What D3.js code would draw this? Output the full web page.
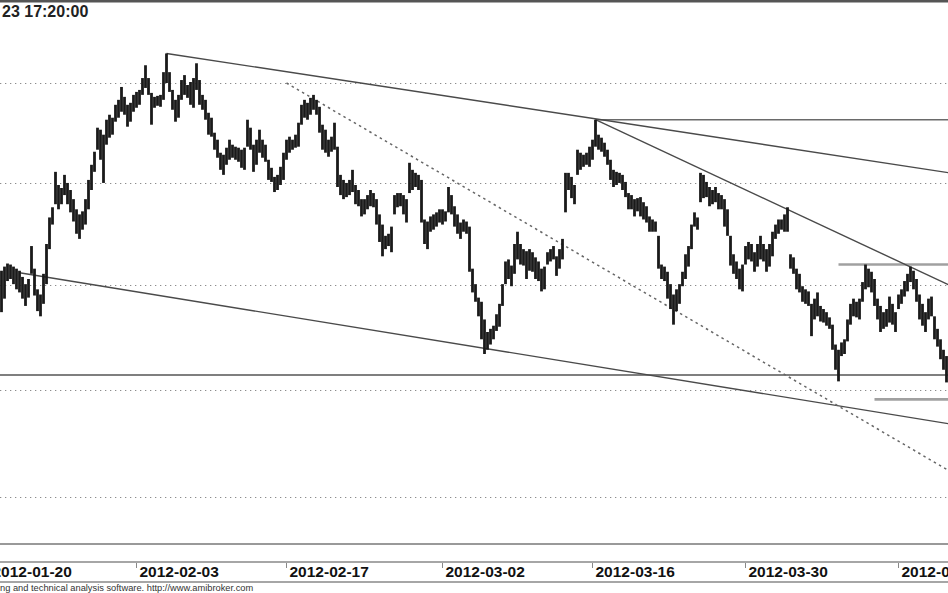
<!DOCTYPE html>
<html>
<head>
<meta charset="utf-8">
<script src="https://cdn.jsdelivr.net/npm/d3@7"></script>
<style>
  html, body { margin: 0; padding: 0; background: #fff; }
  svg { display: block; }
</style>
</head>
<body>
<svg id="chart" width="948" height="593"></svg>
<script>
// bar highs / lows, one bar per slot
var barHigh = [
  4314,4318,4321,4320,4318,4316,4314,4308,4301,4306,
  4338,4316,4296,4291,4311,4340,4366,4376,4411,4398,
  4395,4408,4400,4393,4384,4374,4369,4372,4384,4403,
  4418,4431,4455,4453,4448,4463,4468,4465,4478,4483,
  4496,4486,4478,4480,4488,4491,4493,4505,4518,4505,
  4490,4486,4487,4488,4511,4530,4511,4493,4483,4488,
  4503,4508,4498,4501,4505,4520,4503,4488,4483,4470,
  4465,4450,4443,4430,4428,4435,4443,4438,4436,4435,
  4433,4435,4463,4455,4438,4443,4453,4443,4438,4423,
  4415,4406,4408,4416,4430,4443,4446,4443,4448,4460,
  4478,4483,4480,4485,4488,4483,4476,4458,4453,4443,
  4446,4460,4436,4408,4403,4400,4403,4413,4398,4393,
  4384,4384,4388,4393,4390,4384,4369,4359,4348,4350,
  4357,4388,4390,4390,4388,4384,4420,4413,4410,4408,
  4403,4364,4362,4367,4369,4371,4374,4374,4372,4396,
  4388,4377,4369,4361,4364,4362,4357,4316,4301,4288,
  4284,4267,4255,4258,4261,4272,4282,4301,4323,4325,
  4319,4340,4352,4340,4335,4333,4335,4332,4327,4323,
  4316,4318,4332,4335,4338,4328,4335,4345,4410,4410,
  4406,4398,4433,4430,4428,4430,4436,4443,4463,4448,
  4445,4440,4433,4423,4413,4411,4410,4408,4401,4390,
  4388,4384,4385,4386,4381,4377,4367,4364,4362,4348,
  4320,4318,4313,4301,4291,4296,4301,4313,4330,4338,
  4359,4371,4366,4410,4408,4401,4396,4393,4396,4390,
  4388,4384,4374,4348,4330,4323,4316,4320,4338,4342,
  4340,4332,4340,4348,4340,4335,4340,4352,4359,4364,
  4364,4369,4376,4330,4327,4316,4311,4299,4296,4294,
  4282,4287,4293,4280,4277,4274,4269,4262,4243,4238,
  4245,4248,4267,4282,4287,4284,4287,4303,4320,4316,
  4313,4306,4287,4280,4274,4277,4289,4282,4274,4291,
  4296,4304,4311,4318,4314,4306,4291,4282,4274,4287,
  4289,4270,4258,4248,4238,4232
];
var barLow = [
  4274,4287,4304,4306,4301,4296,4293,4287,4280,4288,
  4311,4290,4275,4270,4282,4301,4335,4359,4379,4374,
  4379,4388,4379,4371,4362,4350,4345,4354,4359,4374,
  4393,4411,4433,4423,4400,4438,4445,4448,4461,4465,
  4471,4468,4456,4461,4471,4475,4478,4488,4495,4488,
  4458,4475,4477,4476,4483,4500,4491,4473,4461,4465,
  4483,4488,4485,4478,4475,4493,4478,4473,4463,4448,
  4446,4433,4425,4413,4408,4418,4423,4425,4423,4421,
  4415,4413,4436,4433,4411,4418,4430,4425,4421,4403,
  4401,4391,4393,4398,4403,4423,4430,4433,4435,4436,
  4458,4465,4463,4468,4473,4468,4450,4433,4430,4426,
  4431,4433,4396,4388,4384,4386,4388,4391,4379,4377,
  4367,4369,4374,4377,4376,4359,4342,4328,4335,4338,
  4332,4369,4376,4377,4369,4361,4390,4393,4396,4393,
  4361,4340,4335,4352,4354,4357,4361,4359,4362,4371,
  4369,4357,4350,4345,4352,4350,4313,4293,4284,4270,
  4248,4234,4238,4243,4248,4256,4260,4280,4301,4306,
  4299,4311,4325,4320,4319,4306,4314,4313,4306,4304,
  4294,4296,4320,4323,4325,4309,4316,4325,4371,4393,
  4385,4379,4408,4413,4416,4418,4416,4423,4436,4433,
  4431,4426,4418,4403,4396,4398,4400,4393,4386,4374,
  4374,4367,4372,4367,4364,4361,4352,4352,4352,4316,
  4306,4304,4287,4277,4262,4275,4282,4299,4306,4318,
  4335,4357,4354,4381,4385,4386,4377,4379,4381,4374,
  4374,4357,4348,4319,4311,4306,4296,4294,4320,4325,
  4323,4313,4318,4325,4323,4313,4318,4328,4345,4350,
  4354,4352,4352,4316,4311,4296,4293,4284,4282,4280,
  4251,4267,4270,4265,4264,4261,4258,4238,4219,4208,
  4232,4234,4246,4262,4270,4269,4267,4284,4296,4298,
  4293,4280,4267,4255,4258,4260,4264,4262,4255,4277,
  4282,4289,4294,4303,4296,4284,4267,4261,4255,4267,
  4270,4248,4241,4229,4219,4207
];

var gridLevels = [4100, 4200, 4300, 4400, 4500];

var dateLabels = ["2012-01-20", "2012-02-03", "2012-02-17", "2012-03-02", "2012-03-16", "2012-03-30", "2012-04-13"];
var dateBars   = [-4, 45, 95, 147, 197, 248, 299];

// drawn studies: [bar1, price1, bar2, price2]
var trendSolid  = [[55, 4530, 316, 4410], [198, 4463, 316, 4300], [6, 4312, 316, 4168]];
var trendDotted = [[95, 4500, 316, 4124]];
// horizontal levels: [fromBar, toBar, price]
var levels = [[198, 316, 4463], [-1, 316, 4214], [279, 316, 4320], [291, 316, 4191]];

var titleText  = "23 17:20:00";
var footerText = "ng and technical analysis software. http://www.amibroker.com";

var svg = d3.select("#chart");
var font = "'Liberation Sans', Arial, sans-serif";

var x = d3.scaleLinear().domain([0, barHigh.length - 1]).range([1.5, 946.5]);
var y = d3.scaleLog().domain([4100, 4500]).range([497, 83]);

// frame
svg.append("line").attr("x1", 0).attr("x2", 948).attr("y1", 1).attr("y2", 1)
  .attr("stroke", "#555").attr("stroke-width", 3);

// dotted price grid
svg.append("g").selectAll("line").data(gridLevels).join("line")
  .attr("x1", 0).attr("x2", 948)
  .attr("y1", d => Math.round(y(d)) + 0.5).attr("y2", d => Math.round(y(d)) + 0.5)
  .attr("stroke", "#8c8c8c").attr("stroke-width", 1.2)
  .attr("stroke-dasharray", "1.3,3.7");

// horizontal levels
var levelColor = ["#6a6a6a", "#555", "#a0a0a0", "#a0a0a0"];
var levelWidth = [1.4, 1.4, 2.6, 2.6];
svg.append("g").selectAll("line").data(levels).join("line")
  .attr("x1", d => x(d[0])).attr("x2", d => x(d[1]))
  .attr("y1", d => y(d[2])).attr("y2", d => y(d[2]))
  .attr("stroke", (d, i) => levelColor[i])
  .attr("stroke-width", (d, i) => levelWidth[i]);

// trend lines
svg.append("g").selectAll("line").data(trendSolid).join("line")
  .attr("x1", d => x(d[0])).attr("y1", d => y(d[1]))
  .attr("x2", d => x(d[2])).attr("y2", d => y(d[3]))
  .attr("stroke", "#4a4a4a").attr("stroke-width", 1.4);

svg.append("g").selectAll("line").data(trendDotted).join("line")
  .attr("x1", d => x(d[0])).attr("y1", d => y(d[1]))
  .attr("x2", d => x(d[2])).attr("y2", d => y(d[3]))
  .attr("stroke", "#666").attr("stroke-width", 1.5)
  .attr("stroke-dasharray", "2.5,3.5");

// price bars
svg.append("g").selectAll("line").data(barHigh).join("line")
  .attr("x1", (d, i) => x(i)).attr("x2", (d, i) => x(i))
  .attr("y1", d => y(d)).attr("y2", (d, i) => y(barLow[i]))
  .attr("stroke", "#1a1a1a").attr("stroke-width", 2.8);

// bottom of plot and date axis band
svg.append("line").attr("x1", 0).attr("x2", 948).attr("y1", 544).attr("y2", 544)
  .attr("stroke", "#777").attr("stroke-width", 1.5);
svg.append("line").attr("x1", 0).attr("x2", 948).attr("y1", 562).attr("y2", 562)
  .attr("stroke", "#888").attr("stroke-width", 1.3);
svg.append("line").attr("x1", 0).attr("x2", 948).attr("y1", 582).attr("y2", 582)
  .attr("stroke", "#888").attr("stroke-width", 1.3);

var ticks = svg.append("g").selectAll("g").data(dateLabels).join("g")
  .attr("transform", (d, i) => "translate(" + x(dateBars[i]) + ",0)");
ticks.append("line").attr("x1", 0).attr("x2", 0).attr("y1", 563).attr("y2", 568)
  .attr("stroke", "#888").attr("stroke-width", 1);
ticks.append("text").attr("x", 3).attr("y", 577)
  .attr("font-family", font).attr("font-weight", "bold").attr("font-size", "15.5px")
  .attr("fill", "#111").text(d => d);

// title and footer
svg.append("text").attr("x", 2).attr("y", 17)
  .attr("font-family", font).attr("font-weight", "bold").attr("font-size", "16px")
  .attr("fill", "#222").text(titleText);
svg.append("text").attr("x", 0).attr("y", 591)
  .attr("font-family", font).attr("font-size", "9.3px")
  .attr("fill", "#333").text(footerText);
</script>
</body>
</html>
